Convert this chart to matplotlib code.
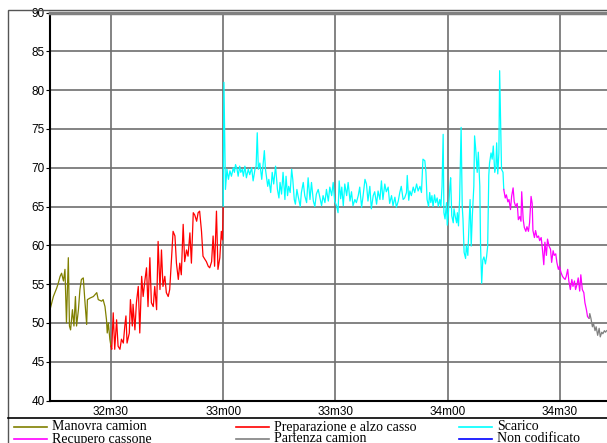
import matplotlib
matplotlib.use("Agg")
import matplotlib.pyplot as plt
from matplotlib.lines import Line2D
from matplotlib.patches import Rectangle
from matplotlib.ticker import FuncFormatter

# seconds since start of the hour
manovra_t = [1933.7, 1934.6, 1935.5, 1935.9, 1936.4, 1936.8, 1937.3, 1937.7, 1938.1, 1938.6,
             1938.9, 1939.2, 1939.7, 1940.1, 1940.5, 1940.8, 1941.3, 1941.7, 1942.1, 1942.6,
             1943.0, 1943.5, 1943.7, 1944.4, 1945.3, 1946.2, 1946.6, 1947.5, 1947.9, 1948.4,
             1948.8, 1949.0, 1949.3, 1949.7, 1950.0]
manovra_v = [51.7, 53.4, 54.5, 55.1, 56.0, 56.4, 55.4, 56.9, 50.0, 58.4,
             49.6, 49.1, 51.7, 49.6, 53.4, 49.6, 51.7, 54.3, 55.6, 55.8,
             53.0, 49.8, 53.0, 53.2, 53.4, 53.9, 53.0, 52.8, 53.0, 52.1,
             50.4, 48.7, 50.0, 47.9, 47.0]

prep_t = [1950.0, 1950.2, 1950.6, 1951.0, 1951.5, 1951.9, 1952.4, 1952.8, 1953.3, 1953.7,
          1954.0, 1954.3, 1954.9, 1955.2, 1955.7, 1955.9, 1956.4, 1956.8, 1957.3, 1957.7,
          1958.2, 1958.6, 1959.1, 1959.5, 1959.9, 1960.4, 1960.8, 1961.3, 1961.7, 1962.2,
          1962.6, 1963.1, 1963.5, 1963.9, 1964.4, 1964.8, 1965.3, 1965.7, 1966.2, 1966.6,
          1967.1, 1967.5, 1968.0, 1968.4, 1968.8, 1969.3, 1969.7, 1970.2, 1970.6, 1971.1,
          1971.5, 1972.0, 1972.4, 1972.9, 1973.3, 1973.7, 1974.2, 1974.6, 1975.1, 1975.5,
          1976.0, 1976.4, 1976.9, 1977.3, 1977.7, 1978.2, 1978.6, 1979.1, 1979.5, 1979.8,
          1980.0]
prep_v = [47.0, 46.6, 51.3, 46.6, 50.4, 47.0, 46.6, 47.9, 47.4, 49.6,
          50.9, 47.4, 48.7, 53.0, 49.6, 52.4, 49.1, 52.6, 54.7, 48.7,
          56.0, 53.4, 55.6, 57.1, 52.1, 58.4, 52.6, 52.1, 54.7, 51.7,
          60.5, 54.3, 59.4, 54.7, 56.0, 53.9, 53.4, 54.3, 58.4, 61.8,
          61.2, 57.7, 55.6, 57.7, 56.2, 62.7, 57.9, 59.4, 58.6, 61.6,
          57.7, 64.2, 63.9, 63.1, 64.2, 64.4, 61.8, 58.6, 58.2, 57.9,
          57.3, 57.1, 57.9, 61.2, 57.3, 64.4, 56.9, 58.4, 61.8, 60.7,
          65.0]

scarico_t = [1980.0, 1980.1, 1980.2, 1980.6, 1981.0, 1981.4, 1981.8, 1982.2, 1982.7, 1983.0,
             1983.3, 1983.7, 1984.0, 1984.4, 1984.7, 1985.1, 1985.4, 1985.8, 1986.2, 1986.7,
             1987.1, 1987.6, 1988.0, 1988.5, 1988.8, 1989.1, 1989.4, 1989.8, 1990.3, 1991.0,
             1991.3, 1991.9, 1992.2, 1992.7, 1993.1, 1993.5, 1994.0, 1994.5, 1994.9, 1995.2,
             1995.6, 1996.0, 1996.5, 1996.8, 1997.2, 1997.5, 1997.9, 1998.3, 1998.6, 1999.0,
             1999.3, 1999.7, 2000.0, 2000.6, 2000.9, 2001.4, 2001.8, 2002.3, 2002.7, 2003.2,
             2003.6, 2004.1, 2004.5, 2004.9, 2005.4,
             2006.3, 2006.7, 2007.2, 2007.6, 2008.1, 2008.5, 2009.0, 2009.4, 2009.8, 2010.3,
             2010.7, 2011.0, 2011.4, 2011.7, 2012.1, 2012.5, 2013.0, 2013.4, 2013.9, 2014.3,
             2014.7, 2015.2, 2015.6, 2016.1, 2016.5, 2017.0, 2017.4, 2017.9, 2018.3, 2018.7,
             2019.2, 2019.6, 2020.1, 2020.5, 2021.0, 2021.4, 2021.9, 2022.3, 2022.7, 2023.2,
             2023.6, 2024.1, 2024.5, 2025.0, 2025.4, 2025.9, 2026.3, 2026.8, 2027.2, 2027.6,
             2028.1, 2028.5, 2029.0, 2029.2, 2029.6, 2029.9, 2030.3, 2030.8, 2031.2, 2031.7,
             2032.1,
             2032.6, 2033.0, 2033.4, 2033.9, 2034.2, 2034.5, 2034.9, 2035.2, 2035.5, 2035.8,
             2036.1, 2036.5, 2036.8, 2037.2, 2037.5, 2037.9, 2038.2, 2038.5, 2038.8, 2039.0,
             2039.3, 2039.7, 2039.9, 2040.2, 2040.6, 2040.8, 2041.1, 2041.5, 2041.7, 2042.0,
             2042.4, 2042.6, 2042.9, 2043.2, 2043.6, 2043.9, 2044.1, 2044.4, 2044.8, 2045.0,
             2045.4, 2045.7, 2046.0, 2046.3, 2046.6, 2047.0, 2047.2, 2047.5, 2047.9, 2048.2,
             2048.6, 2048.8, 2049.1, 2049.4, 2049.7, 2050.1, 2050.4, 2050.7, 2051.0, 2051.2,
             2051.6, 2051.9, 2052.2, 2052.6, 2052.9, 2053.1, 2053.4, 2053.7, 2053.9, 2054.2,
             2054.4, 2054.8, 2055.0]
scarico_v = [65.0, 73.2, 81.0, 67.2, 69.8, 68.5, 69.6, 68.9, 70.0, 69.4,
             70.4, 69.8, 68.9, 70.2, 69.4, 69.8, 68.9, 70.2, 68.7, 69.8,
             69.1, 70.0, 68.3, 69.8, 70.2, 74.5, 69.8, 70.6, 68.5, 72.2,
             69.8, 67.6, 68.5, 66.8, 69.4, 67.9, 70.2, 67.2, 66.1, 68.1,
             66.6, 69.4, 65.9, 68.9, 66.4, 67.6, 66.8, 69.8, 68.5, 65.9,
             65.3, 67.2, 66.4, 65.0, 66.8, 68.1, 66.4, 65.5, 68.7, 65.9,
             68.1, 65.7, 65.0, 66.6, 67.2,
             65.1, 66.4, 65.5, 67.2, 65.7, 67.5, 66.4, 68.1, 65.7, 65.1,
             64.2, 68.3, 66.0, 67.5, 65.1, 67.9, 66.4, 68.1, 65.7, 66.9,
             65.1, 65.9, 65.5, 66.4, 67.5, 64.9, 66.4, 68.5, 67.9, 65.7,
             67.6, 64.7, 66.4, 66.9, 65.3, 67.0, 65.9, 68.3, 65.9, 67.9,
             66.9, 67.5, 65.4, 66.4, 65.1, 66.2, 64.9, 65.7, 66.8, 67.6,
             65.9, 66.1, 66.8, 69.0, 65.8, 67.0, 66.4, 67.5, 66.8, 67.9,
             67.0,
             67.6, 66.8, 71.1, 70.9, 69.4, 65.9, 65.0, 66.8, 65.5, 66.4,
             65.0, 66.5, 65.5, 66.1, 65.0, 65.9, 65.0, 67.6, 74.3, 64.2,
             63.4, 65.5, 62.6, 64.2, 67.6, 68.7, 63.8, 62.9, 64.7, 63.8,
             62.9, 64.2, 62.5, 65.9, 75.2, 65.0, 63.4, 59.1, 58.3, 60.0,
             58.7, 62.5, 65.9, 59.9, 63.8, 67.6, 74.1, 72.4, 69.4, 72.0,
             67.6, 59.9, 55.1, 58.1, 58.5, 57.6, 58.5, 59.9, 69.0, 70.6,
             71.9, 71.1, 72.8, 69.4, 70.2, 73.2, 69.2, 71.9, 82.5, 74.5,
             69.8, 69.4, 67.2]

recupero_t = [2055.0, 2055.4, 2055.7, 2056.1, 2056.4, 2056.8, 2057.1, 2057.5, 2057.8, 2058.2,
              2058.6, 2058.9, 2059.3, 2059.6, 2059.8, 2060.2, 2060.5, 2060.9, 2061.2, 2061.6,
              2061.9, 2062.3, 2062.6, 2062.8, 2063.2, 2063.5, 2063.9, 2064.3, 2064.6, 2065.0,
              2065.3, 2065.7, 2066.0, 2066.4, 2066.7, 2067.1, 2067.5, 2067.8, 2068.2, 2068.5,
              2068.9, 2069.2, 2069.6, 2069.9, 2070.3, 2070.7, 2071.0, 2071.4, 2071.7, 2072.1,
              2072.4, 2072.8, 2073.2, 2073.5, 2073.9, 2074.2, 2074.6, 2074.9, 2075.3, 2075.6,
              2076.0, 2076.4, 2076.7, 2077.1, 2077.4, 2077.8]
recupero_v = [67.2, 66.1, 66.5, 65.6, 65.9, 64.6, 66.3, 67.4, 65.6, 65.0,
              65.4, 63.3, 63.7, 63.1, 66.9, 63.3, 62.3, 61.8, 62.4, 61.8,
              62.9, 66.3, 65.4, 61.9, 61.0, 61.9, 61.0, 61.2, 60.6, 61.0,
              59.7, 57.5, 60.4, 58.7, 60.8, 59.9, 59.5, 57.8, 59.3, 58.7,
              58.9, 57.8, 56.9, 57.3, 56.5, 56.0, 55.8, 55.6, 56.0, 56.9,
              55.4, 54.3, 55.6, 54.7, 55.4, 54.3, 55.0, 55.8, 54.1, 56.2,
              54.3, 53.9, 52.6, 51.7, 50.8, 50.6]

partenza_t = [2077.8, 2078.0, 2078.3, 2078.7, 2079.0, 2079.4, 2079.7, 2080.1, 2080.5, 2080.8,
              2081.2, 2081.5, 2081.9, 2082.2, 2082.5]
partenza_v = [50.6, 51.2, 50.6, 49.5, 49.9, 49.0, 49.5, 48.4, 49.3, 48.2,
              48.8, 48.6, 49.0, 48.8, 49.0]

labels = ["Manovra camion", "Preparazione e alzo casso", "Scarico",
          "Recupero cassone", "Partenza camion", "Non codificato"]
colors = ["#808000", "#ff0000", "#00ffff", "#ff00ff", "#808080", "#0000ff"]

W, H = 607, 443
fig = plt.figure(figsize=(W / 100, H / 100), dpi=100)

# outer frame around plot + legend
fig.add_artist(Rectangle((8 / W, -0.1), 1.2, 1.1 - 10 / H, transform=fig.transFigure,
                         fill=False, edgecolor="#555555", lw=1.0))
fig.add_artist(Line2D([8 / W, 1.0], [1 - 418 / H, 1 - 418 / H], transform=fig.transFigure,
                      color="black", lw=1.2))

ax = fig.add_axes([50 / W, 1 - 400.5 / H, 1 - 50 / W, (400.5 - 12.5) / H])

series = [(manovra_t, manovra_v), (prep_t, prep_v), (scarico_t, scarico_v),
          (recupero_t, recupero_v), (partenza_t, partenza_v)]
for (t, v), c in zip(series, colors):
    ax.plot(t, v, color=c, lw=0.9)

ax.set_xlim(1933.7, 2082.6)
ax.set_ylim(40, 90)
ax.set_xticks([1950, 1980, 2010, 2040, 2070])
ax.xaxis.set_major_formatter(FuncFormatter(lambda x, p: f"{int(x) // 60}m{int(x) % 60:02d}"))
ax.set_yticks(range(40, 91, 5))
ax.grid(True, color="#6e6e6e", lw=1.2)
ax.set_axisbelow(True)

for lab in ax.get_xticklabels() + ax.get_yticklabels():
    lab.set_fontfamily("Liberation Sans")
    lab.set_fontsize(8.5)
ax.tick_params(axis="y", length=3, pad=1, colors="black")
ax.tick_params(axis="x", length=0, pad=4, colors="black")

ax.spines["right"].set_visible(False)
ax.spines["left"].set_linewidth(1.5)
ax.spines["bottom"].set_linewidth(1.5)
ax.spines["top"].set_color("#808080")
ax.spines["top"].set_linewidth(2.5)

# legend, three columns, second row cut by the image edge
col_x = [14, 236, 459]
row_y = [427, 439]
for i, (lab, c) in enumerate(zip(labels, colors)):
    x0 = col_x[i % 3]
    y0 = 1 - row_y[i // 3] / H
    fig.add_artist(Line2D([x0 / W, (x0 + 33) / W], [y0, y0], transform=fig.transFigure,
                          color=c, lw=1.2))
    fig.text((x0 + 38) / W, y0, lab, fontfamily="Liberation Serif", fontsize=10,
             va="center", ha="left")

fig.savefig("out.png", dpi=100)
